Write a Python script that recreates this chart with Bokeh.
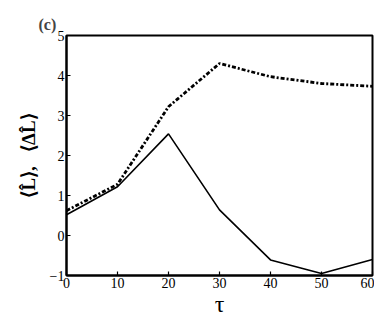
from bokeh.plotting import figure
from bokeh.models import Range1d, FixedTicker, Title
from bokeh.embed import file_html
from bokeh.resources import INLINE

tau = [0, 10, 20, 30, 40, 50, 60]
L_mean = [0.52, 1.22, 2.54, 0.64, -0.61, -0.95, -0.6]
dL_mean = [0.62, 1.28, 3.22, 4.3, 3.97, 3.8, 3.73]
x_ticks = [0, 10, 20, 30, 40, 50, 60]
y_ticks = [-1, 0, 1, 2, 3, 4, 5]

FONT = "Liberation Serif"

p = figure(width=374, height=322, output_backend="svg", toolbar_location=None,
           x_range=Range1d(0, 60), y_range=Range1d(-1, 5),
           min_border_left=66, min_border_right=2, min_border_top=35, min_border_bottom=47)
p.grid.visible = False
p.outline_line_color = "black"
p.outline_line_width = 2
p.background_fill_color = "white"
p.border_fill_color = "white"

p.line(tau, dL_mean, line_color="black", line_width=2.8, line_dash="4 2 2 2")
p.line(tau, L_mean, line_color="black", line_width=1.6)

for ax in (p.xaxis[0], p.yaxis[0]):
    ax.axis_line_width = 2
    ax.major_tick_in = 4
    ax.major_tick_out = 0
    ax.major_tick_line_width = 1.2
    ax.minor_tick_line_color = None
    ax.major_label_text_font = FONT
    ax.major_label_text_font_size = "14px"
    ax.major_label_text_color = "black"
    ax.axis_label_text_font = FONT
    ax.axis_label_text_color = "black"
    ax.axis_label_text_font_style = "normal"

p.xaxis.ticker = FixedTicker(ticks=x_ticks)
p.yaxis.ticker = FixedTicker(ticks=y_ticks)
p.yaxis.major_label_overrides = {-1: "\u22121"}
p.xaxis.major_label_standoff = 2
p.yaxis.major_label_standoff = 2
p.xaxis.axis_label = "\u03c4"
p.xaxis.axis_label_text_font_size = "24px"
p.xaxis.axis_label_standoff = 0
p.yaxis.axis_label = "\u27e8L\u0302\u27e9,\u00a0\u00a0\u00a0\u27e8\u0394L\u0302\u27e9"
p.yaxis.axis_label_text_font_size = "19px"
p.yaxis.axis_label_text_font_style = "bold"
p.yaxis.axis_label_standoff = 8

title = Title(text="(c)", align="left", offset=-28, text_font=FONT,
              text_font_size="16px", text_font_style="bold", standoff=6)
p.add_layout(title, "above")

open("out.html", "w").write(file_html(p, INLINE))
